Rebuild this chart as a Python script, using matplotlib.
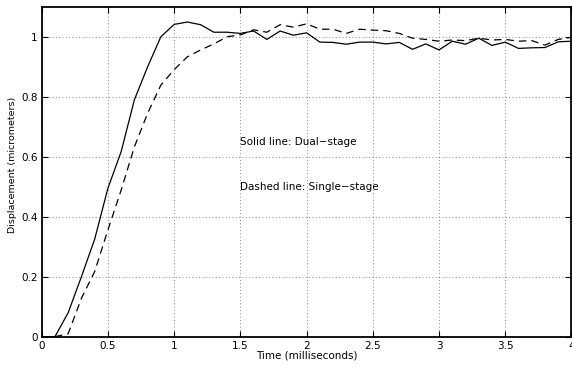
import numpy as np
import matplotlib
matplotlib.use("Agg")
import matplotlib.pyplot as plt

plt.rcParams['font.family'] = ['DejaVu Sans']

# Step response sampled every 0.1 ms
time_ms = [0.0, 0.1, 0.2, 0.3, 0.4, 0.5, 0.6, 0.7, 0.8, 0.9,
           1.0, 1.1, 1.2, 1.3, 1.4, 1.5, 1.6, 1.7, 1.8, 1.9,
           2.0, 2.1, 2.2, 2.3, 2.4, 2.5, 2.6, 2.7, 2.8, 2.9,
           3.0, 3.1, 3.2, 3.3, 3.4, 3.5, 3.6, 3.7, 3.8, 3.9, 4.0]

dual_stage = [0.0, 0.0, 0.08, 0.20, 0.325, 0.495, 0.617, 0.79, 0.90, 1.00,
              1.041, 1.049, 1.04, 1.015, 1.015, 1.011, 1.019, 0.991, 1.019, 1.005,
              1.013, 0.982, 0.981, 0.975, 0.982, 0.982, 0.976, 0.981, 0.958, 0.976,
              0.956, 0.985, 0.975, 0.995, 0.971, 0.982, 0.961, 0.963, 0.964, 0.983, 0.985]

single_stage = [np.nan, 0.0, 0.01, 0.128, 0.217, 0.356, 0.489, 0.633, 0.745, 0.839,
                0.89, 0.933, 0.956, 0.976, 1.0, 1.006, 1.023, 1.015, 1.04, 1.032,
                1.043, 1.025, 1.025, 1.011, 1.025, 1.022, 1.02, 1.011, 0.995, 0.991,
                0.985, 0.989, 0.987, 0.995, 0.989, 0.991, 0.985, 0.987, 0.972, 0.991, 0.998]

fig = plt.figure(figsize=(5.72, 3.67), dpi=100)
ax = fig.add_axes([0.0729, 0.0826, 0.9262, 0.8991])

ax.plot(time_ms, dual_stage, color='black', linewidth=0.9)
ax.plot(time_ms, single_stage, color='black', linewidth=0.9, linestyle=(0, (6, 4)))

ax.set_xlim(0, 4)
ax.set_ylim(0, 1.1)
ax.set_xticks([0, 0.5, 1, 1.5, 2, 2.5, 3, 3.5, 4])
ax.set_xticklabels(['0', '0.5', '1', '1.5', '2', '2.5', '3', '3.5', '4'])
ax.set_yticks([0, 0.2, 0.4, 0.6, 0.8, 1])
ax.set_yticklabels(['0', '0.2', '0.4', '0.6', '0.8', '1'])

ax.grid(True, color='#666666', linestyle=(0, (1, 3)), linewidth=0.6)
ax.tick_params(direction='in', top=True, right=True, length=4, width=0.8,
               labelsize=7.5, pad=3)
for spine in ax.spines.values():
    spine.set_linewidth(1.3)

ax.set_xlabel('Time (milliseconds)', fontsize=7.5, labelpad=0)
ax.set_ylabel('Displacement (micrometers)', fontsize=6.8)
ax.yaxis.set_label_coords(-0.047, 0.52)

ax.text(1.495, 0.65, 'Solid line: Dual\u2212stage', fontsize=7.5, va='center')
ax.text(1.495, 0.50, 'Dashed line: Single\u2212stage', fontsize=7.5, va='center')

fig.savefig('out.png', dpi=100)
